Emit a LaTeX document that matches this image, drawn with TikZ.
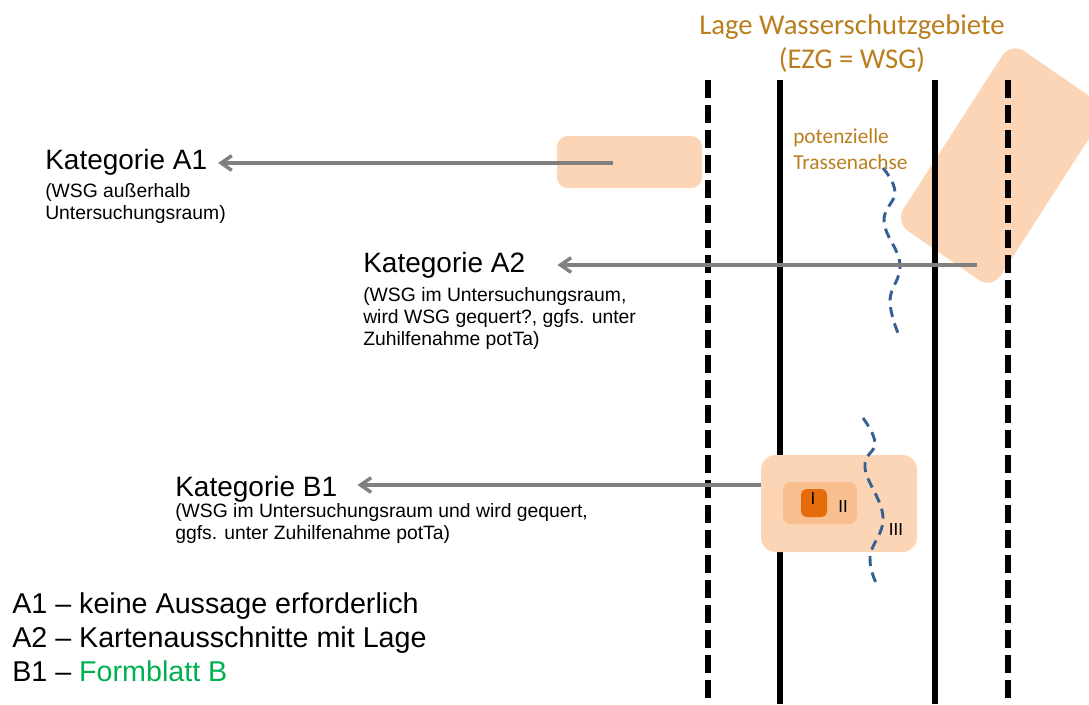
\documentclass[tikz,border=0pt]{standalone}
\usepackage{fontspec}
\setmainfont{Liberation Sans}
\newfontfamily\calibri{Carlito}
\usetikzlibrary{arrows.meta,fit,calc}

\definecolor{peach}{RGB}{251,213,181}
\definecolor{peachmid}{RGB}{250,191,143}
\definecolor{peachdark}{RGB}{228,108,10}
\definecolor{trassblue}{RGB}{55,96,146}
\definecolor{titlebrown}{RGB}{186,126,30}
\definecolor{formgreen}{RGB}{0,176,80}
\definecolor{arrowgray}{RGB}{128,128,128}

\tikzset{
  kat/.style={inner sep=0pt, anchor=base west, font=\fontsize{21pt}{24pt}\selectfont},
  sub/.style={inner sep=0pt, anchor=north west, align=left, font=\fontsize{14.5pt}{16.5pt}\selectfont},
  zone/.style={fill=peach, inner sep=0pt, rounded corners=8pt},
  grenzdash/.style={line width=4.5pt, dash pattern=on 13.5pt off 5.25pt},
  grenz/.style={line width=4.3pt},
  trasse/.style={trassblue, line width=2.2pt, dash pattern=on 7.5pt off 5pt},
  katarrow/.style={arrowgray, line width=2.6pt, -{Straight Barb[length=8pt,width=11pt]}},
}

\begin{document}
\begin{tikzpicture}[x=0.75pt,y=-0.75pt]
  \useasboundingbox (0,0) rectangle (1089,704);

  % Wasserschutzgebiete
  \fill[peach, rounded corners=12pt] (1011,42) -- (1108,109) -- (992,289) -- (895,222) -- cycle;
  \node[zone, fit={(557,136) (702,188)}] (wsgA1) {};

  % Korridorgrenzen
  \draw[grenzdash] (708,80) -- (708,704);
  \draw[grenzdash] (1008,80) -- (1008,704);
  \draw[grenz] (780,80) -- (780,704);
  \draw[grenz] (935,80) -- (935,704);

  % potenzielle Trassenachse
  \draw[trasse] plot[smooth, tension=0.7] coordinates {(883,168) (895,192) (884,222) (900,264) (890,300) (898,333)};

  \node[zone, rounded corners=11pt, fit={(761,455) (917,552)}] (wsgB1) {};
  \node[fill=peachmid, inner sep=0pt, rounded corners=6pt, fit={(783,482) (857,524)}] (zoneII) {};
  \node[fill=peachdark, inner sep=0pt, rounded corners=4pt, fit={(801,489) (827,517)}] (zoneI) {};
  \draw[trasse] plot[smooth, tension=0.7] coordinates {(863,418) (875,443) (865,468) (883,517) (870,557) (878,587)};
  \node[font=\calibri\fontsize{14pt}{15pt}\selectfont, inner sep=0pt] (lblI) at (813,499) {I};
  \node[font=\calibri\fontsize{14pt}{15pt}\selectfont, inner sep=0pt] (lblII) at (843,507) {II};
  \node[font=\calibri\fontsize{14pt}{15pt}\selectfont, inner sep=0pt] (lblIII) at (896,530) {III};

  % Beschriftung
  \node[inner sep=0pt, anchor=north, align=center, text=titlebrown,
        font=\calibri\fontsize{21.5pt}{26pt}\selectfont] (titel) at (852,14) {Lage Wasserschutzgebiete\\(EZG = WSG)};
  \node[inner sep=0pt, anchor=north west, align=left, text=titlebrown,
        font=\calibri\fontsize{16pt}{20pt}\selectfont] (trassename) at (793,128) {potenzielle\\Trassenachse};

  \node[kat] (katA1) at (45,169) {Kategorie A1};
  \node[sub] (subA1) at (45,183) {(WSG außerhalb\\Untersuchungsraum)};
  \node[kat] (katA2) at (363,272) {Kategorie A2};
  \node[sub] (subA2) at (363,287) {(WSG im Untersuchungsraum,\\wird WSG gequert?, ggfs. unter\\Zuhilfenahme potTa)};
  \node[kat] (katB1) at (175,496) {Kategorie B1};
  \node[sub] (subB1) at (175,503) {(WSG im Untersuchungsraum und wird gequert,\\ggfs. unter Zuhilfenahme potTa)};

  \node[inner sep=0pt, anchor=north west, align=left, font=\fontsize{21.5pt}{25.5pt}\selectfont] (legende) at (12,592)
    {A1 -- keine Aussage erforderlich\\A2 -- Kartenausschnitte mit Lage\\B1 -- \textcolor{formgreen}{Formblatt B}};

  % Zuordnung
  \coordinate (srcA1) at (613,163);
  \coordinate (srcA2) at (977,265);
  \coordinate (srcB1) at (wsgB1.west |- 0,485);
  \draw[katarrow] (srcA1) -- ([xshift=8pt]katA1.east |- srcA1);
  \draw[katarrow] (srcA2) -- ([xshift=24pt]katA2.east |- srcA2);
  \draw[katarrow] (srcB1) -- ([xshift=15pt]katB1.east |- srcB1);
\end{tikzpicture}
\end{document}
